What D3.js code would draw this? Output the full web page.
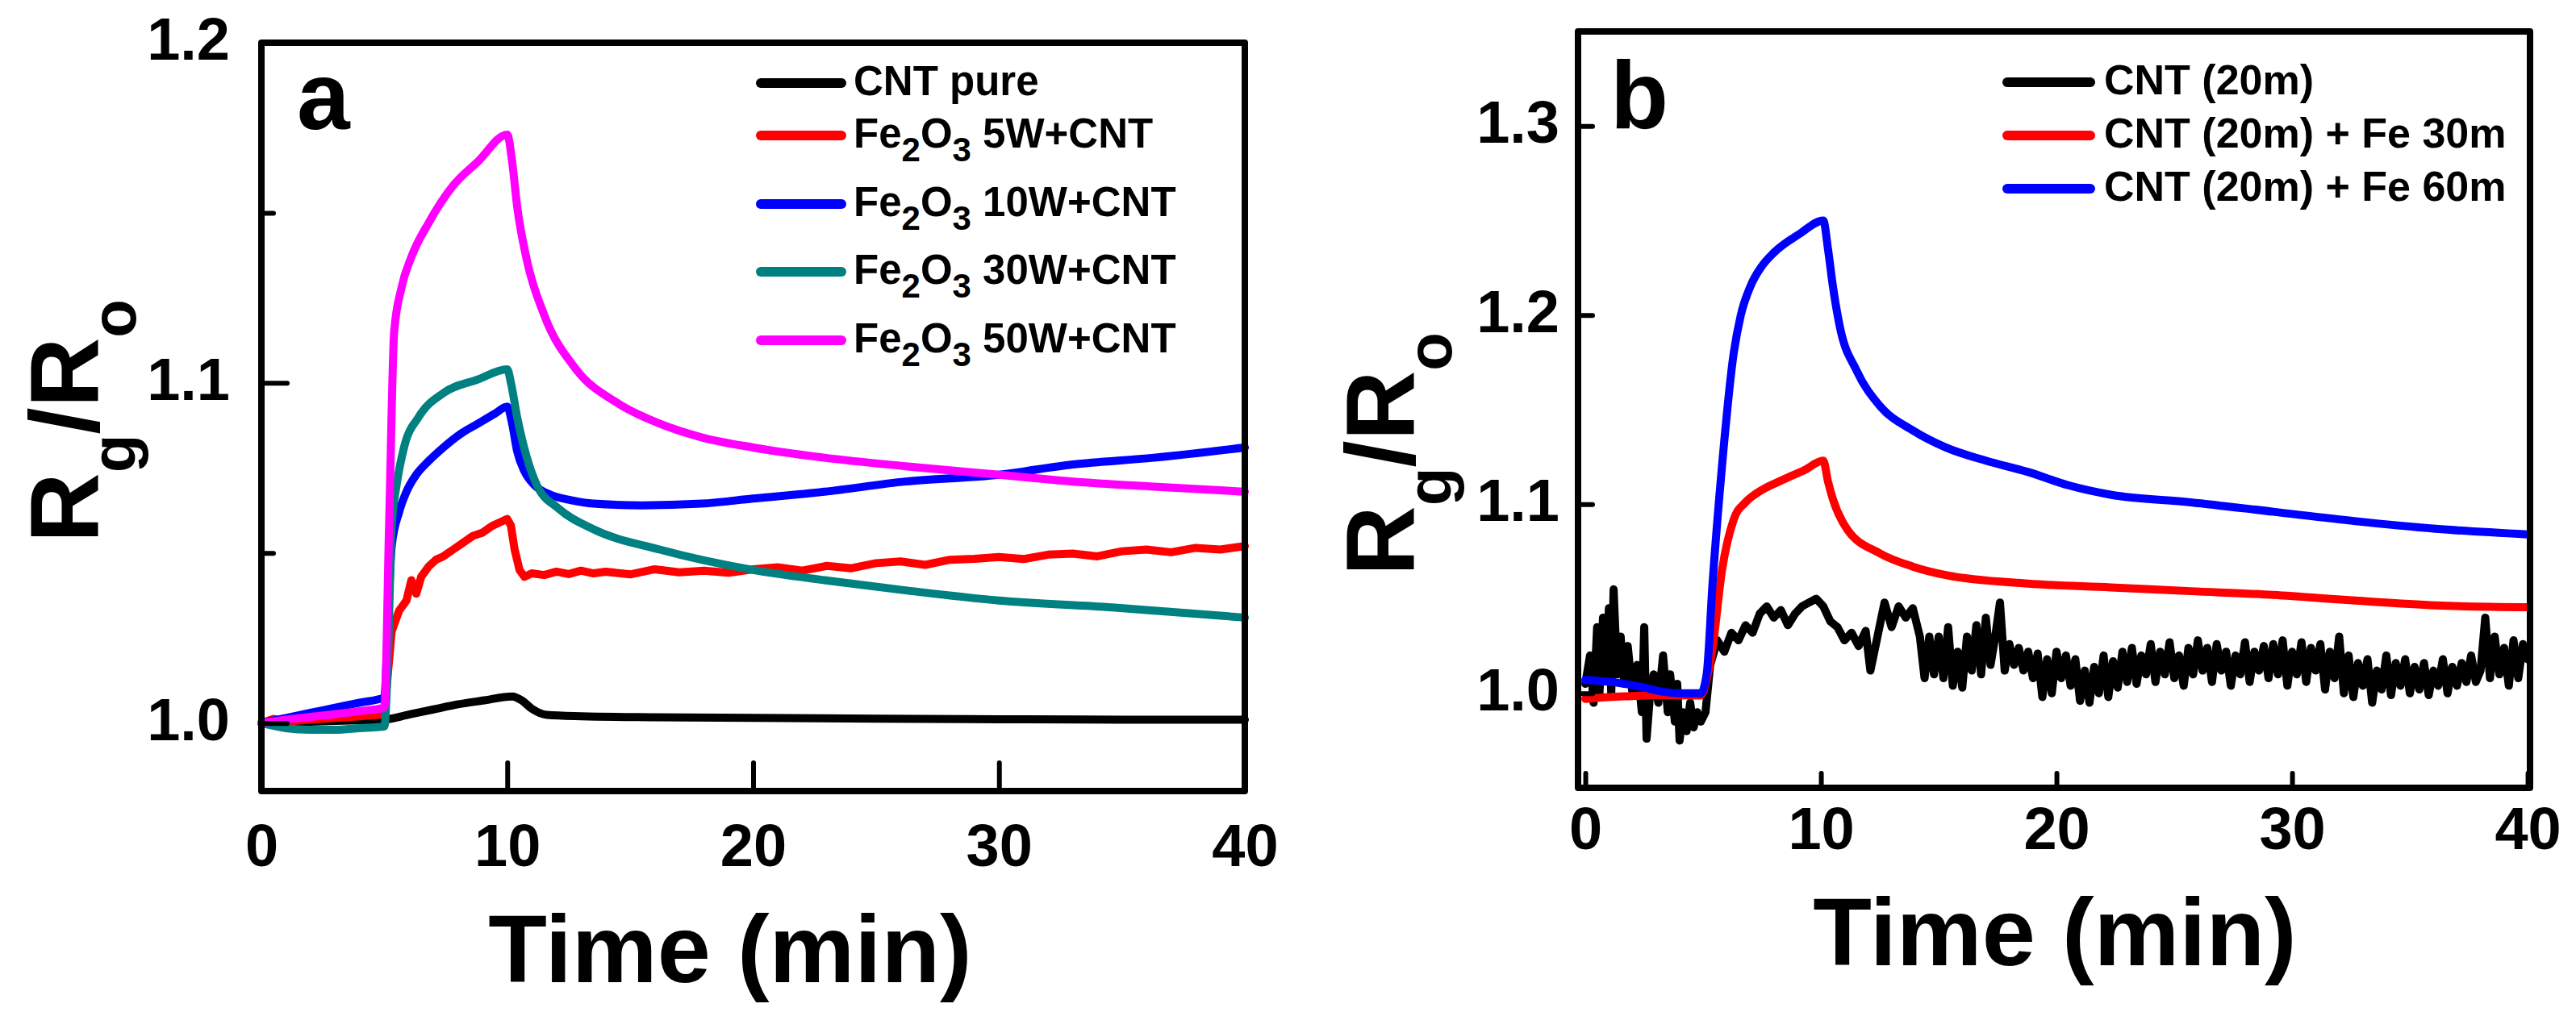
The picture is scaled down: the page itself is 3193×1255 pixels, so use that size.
<!DOCTYPE html>
<html>
<head>
<meta charset="utf-8">
<script src="https://cdn.jsdelivr.net/npm/d3@7"></script>
<style>
  body { margin: 0; background: #fff; }
  svg text { font-family: "Liberation Sans", Arial, sans-serif; font-weight: bold; fill: #000; }
</style>
</head>
<body>
<div id="chart"></div>
<script>
// ---------- panel a data : [time (min), Rg/Ro] ----------
const aNames = ["CNT pure", "Fe2O3 5W+CNT", "Fe2O3 10W+CNT", "Fe2O3 30W+CNT", "Fe2O3 50W+CNT"];
const aColors = ["#000000", "#ff0000", "#0000ff", "#008080", "#ff00ff"];

const aCntPure = [[0,1.0],[2,1.0004],[4,1.0008],[5,1.001],[6,1.0025],[7,1.004],[8,1.0055],[9,1.0066],[10.2,1.0078],
  [10.6,1.0066],[11.0,1.0042],[11.6,1.0024],[13,1.002],[16,1.0017],[20,1.0015],[25,1.0013],[30,1.0011],[35,1.001],[40,1.001]];

const aFe5W = [[0,1.0],[0.5,1.0012],[1,1.0005],[2,1.001],[3,1.0015],[4,1.002],[5,1.0025],[5.15,1.015],[5.3,1.027],[5.6,1.033],
  [5.9,1.036],[6.1,1.042],[6.3,1.038],[6.5,1.043],[6.8,1.046],[7.1,1.048],[7.4,1.049],[7.8,1.051],[8.2,1.053],[8.6,1.055],
  [9.0,1.056],[9.4,1.058],[9.7,1.059],[10.0,1.060],[10.15,1.058],[10.3,1.051],[10.5,1.045],[10.7,1.043],[11.0,1.044],
  [11.5,1.0435],[12,1.0445],[12.5,1.0438],[13,1.0448],[13.5,1.044],[14,1.0445],[15,1.0437],[16,1.0452],[17,1.0443],
  [18,1.0448],[19,1.0442],[20,1.0452],[21,1.0458],[22,1.0448],[23,1.0462],[24,1.0455],[25,1.047],[26,1.0475],[27,1.0465],
  [28,1.048],[29,1.0483],[30,1.0488],[31,1.0482],[32,1.0495],[33,1.0498],[34,1.049],[35,1.0505],[36,1.051],[37,1.0502],
  [38,1.0515],[39,1.051],[40,1.052]];

const aFe10W = [[0,1.0],[1,1.0015],[2,1.003],[3,1.0045],[4,1.006],[5,1.0075],[5.15,1.03],[5.3,1.052],[5.6,1.062],[5.9,1.068],
  [6.3,1.073],[6.8,1.077],[7.4,1.081],[8.1,1.085],[8.8,1.088],[9.5,1.091],[10.0,1.093],[10.2,1.088],[10.4,1.08],[10.7,1.074],
  [11.1,1.07],[11.8,1.067],[12.6,1.0655],[13.5,1.0645],[15.5,1.064],[17.9,1.0645],[20,1.066],[22.9,1.068],[26.2,1.071],
  [30,1.073],[33,1.076],[36.3,1.078],[40,1.081]];

const aFe30W = [[0,1.0],[1,0.9985],[2,0.998],[3,0.998],[4,0.9985],[5,0.999],[5.15,1.02],[5.3,1.058],[5.5,1.07],[5.8,1.081],
  [6.4,1.09],[7.4,1.097],[8.8,1.101],[10.0,1.104],[10.15,1.1],[10.4,1.09],[10.8,1.078],[11.2,1.07],[12.1,1.063],[13.5,1.057],
  [16.2,1.051],[20,1.045],[22.9,1.042],[26.2,1.039],[30,1.036],[34.6,1.034],[40,1.031]];

const aFe50W = [[0,1.0],[1,1.001],[2,1.0018],[3,1.0026],[4,1.0035],[5,1.0045],[5.2,1.06],[5.4,1.115],[5.7,1.128],[6.1,1.137],
  [6.8,1.147],[7.8,1.158],[8.8,1.165],[10.0,1.173],[10.2,1.165],[10.4,1.152],[10.8,1.136],[11.5,1.12],[12.8,1.104],
  [14.5,1.094],[16.2,1.088],[17.9,1.084],[20,1.081],[22.9,1.078],[26.2,1.0755],[30,1.073],[33,1.071],[36.3,1.0695],[40,1.068]];

const aXTicks = [0, 10, 20, 30, 40];
const aYMajor = [1.0, 1.1, 1.2];
const aYMinor = [1.05, 1.15];

// ---------- panel b data ----------
const bNames = ["CNT (20m)", "CNT (20m) + Fe 30m", "CNT (20m) + Fe 60m"];
const bColors = ["#000000", "#ff0000", "#0000ff"];

const bCnt = [[0,1.005],[0.2,1.02],[0.35,0.995],[0.5,1.035],[0.6,1.0],[0.75,1.04],[0.9,1.01],[1.0,1.045],[1.1,1.0],[1.2,1.055],
  [1.35,1.01],[1.5,1.03],[1.65,1.005],[1.8,1.025],[2.0,1.0],[2.2,1.015],[2.4,0.99],[2.5,1.035],[2.6,0.976],[2.75,1.0],
  [2.9,1.01],[3.1,0.995],[3.3,1.02],[3.5,0.99],[3.6,1.01],[3.8,0.985],[3.9,1.005],[4.0,0.975],[4.15,0.99],[4.3,0.98],
  [4.45,0.995],[4.6,0.982],[4.75,0.99],[4.9,0.985],[5.1,0.99],[5.3,1.015],[5.6,1.028],[5.9,1.022],[6.2,1.032],[6.5,1.028],
  [6.8,1.036],[7.1,1.032],[7.4,1.042],[7.7,1.046],[8.0,1.04],[8.3,1.044],[8.6,1.036],[8.9,1.042],[9.2,1.046],[9.5,1.048],
  [9.8,1.05],[10.1,1.046],[10.4,1.038],[10.7,1.035],[11.0,1.028],[11.3,1.032],[11.6,1.025],[11.9,1.033],[12.1,1.012],
  [12.4,1.03],[12.7,1.048],[13.0,1.035],[13.3,1.046],[13.6,1.04],[13.9,1.045],[14.2,1.03],[14.4,1.008],[14.6,1.03],
  [14.8,1.01],[15.0,1.03],[15.2,1.008],[15.4,1.035],[15.6,1.004],[15.8,1.022],[16.0,1.003],[16.2,1.03],[16.4,1.012],
  [16.6,1.036],[16.8,1.01],[17.0,1.04],[17.2,1.015],[17.4,1.03],[17.6,1.048],[17.8,1.012],[18.0,1.026],[18.2,1.015],
  [18.4,1.024],[18.6,1.012],[18.8,1.022],[19.0,1.008],[19.2,1.021],[19.4,0.998],[19.6,1.018],[19.8,1.0],[20.0,1.022],
  [20.2,1.008],[20.4,1.02],[20.6,1.004],[20.8,1.018],[21.0,0.996],[21.2,1.012],[21.4,0.995],[21.6,1.014],[21.8,1.0],
  [22.0,1.02],[22.2,0.998],[22.4,1.017],[22.6,1.003],[22.8,1.022],[23.0,1.006],[23.2,1.024],[23.4,1.005],[23.6,1.02],
  [23.8,1.01],[24.0,1.026],[24.2,1.006],[24.4,1.022],[24.6,1.01],[24.8,1.027],[25.0,1.008],[25.2,1.02],[25.4,1.004],
  [25.6,1.024],[25.8,1.01],[26.0,1.028],[26.2,1.012],[26.4,1.024],[26.6,1.006],[26.8,1.026],[27.0,1.012],[27.2,1.022],
  [27.4,1.004],[27.6,1.02],[27.8,1.01],[28.0,1.027],[28.2,1.006],[28.4,1.022],[28.6,1.012],[28.8,1.025],[29.0,1.008],
  [29.2,1.026],[29.4,1.01],[29.6,1.028],[29.8,1.004],[30.0,1.022],[30.2,1.01],[30.4,1.027],[30.6,1.006],[30.8,1.024],
  [31.0,1.012],[31.2,1.026],[31.4,1.002],[31.6,1.022],[31.8,1.008],[32.0,1.03],[32.2,1.0],[32.4,1.02],[32.6,0.998],
  [32.8,1.016],[33.0,1.004],[33.2,1.018],[33.4,0.995],[33.6,1.012],[33.8,1.002],[34.0,1.02],[34.2,0.999],[34.4,1.016],
  [34.6,1.004],[34.8,1.018],[35.0,1.0],[35.2,1.014],[35.4,1.002],[35.6,1.016],[35.8,0.999],[36.0,1.012],[36.2,1.004],
  [36.4,1.018],[36.6,1.0],[36.8,1.014],[37.0,1.004],[37.2,1.016],[37.4,1.006],[37.6,1.02],[37.8,1.006],[38.0,1.012],
  [38.2,1.04],[38.4,1.008],[38.6,1.03],[38.8,1.01],[39.0,1.024],[39.2,1.004],[39.4,1.028],[39.6,1.008],[39.8,1.026],
  [40.0,1.018]];

const bFe30 = [[0,0.997],[1,0.998],[2,0.9985],[3,0.999],[4.9,0.9988],[5.2,1.01],[5.4,1.024],[5.8,1.065],[6.3,1.092],[6.8,1.101],
  [7.3,1.106],[8.4,1.113],[9.3,1.118],[10.1,1.123],[10.3,1.112],[10.5,1.103],[11.1,1.087],[12.5,1.074],[13.9,1.067],
  [15.3,1.0625],[18.8,1.058],[22.3,1.056],[25.7,1.054],[29.2,1.052],[32.7,1.049],[36.1,1.0465],[40,1.0455]];

const bFe60 = [[0,1.007],[1.4,1.0055],[2.5,1.003],[3.2,1.001],[4.0,1.0],[4.9,1.0],[5.15,1.01],[5.4,1.058],[5.8,1.12],[6.3,1.18],
  [6.6,1.2],[7.0,1.215],[7.5,1.226],[8.0,1.233],[9.1,1.243],[10.1,1.25],[10.3,1.235],[10.5,1.216],[10.8,1.194],[11.5,1.171],
  [12.5,1.152],[13.9,1.139],[15.3,1.13],[17.0,1.123],[18.8,1.117],[20.5,1.11],[22.3,1.105],[25.7,1.101],[29.2,1.096],
  [32.7,1.091],[36.1,1.087],[40,1.084]];

const bXTicks = [0, 10, 20, 30, 40];
const bYTicks = [1.0, 1.1, 1.2, 1.3];

// ---------- page ----------
const W = 3193, H = 1255;
const svg = d3.select("#chart").append("svg").attr("width", W).attr("height", H);
svg.append("rect").attr("width", W).attr("height", H).attr("fill", "#fff");

// writes "Fe2O3" style labels : a digit right after a letter becomes a subscript
function richLabel(sel, str, size, subSize, shift) {
  const parts = str.split(/(?<=[A-Za-z])(\d)/);
  let down = false;
  parts.forEach((p, i) => {
    if (p === "") return;
    const isSub = i % 2 === 1;
    const t = sel.append("tspan").text(p);
    if (isSub) {
      t.attr("font-size", subSize).attr("dy", shift);
      down = true;
    } else if (down) {
      t.attr("dy", -shift);
      down = false;
    }
  });
  sel.attr("font-size", size);
}

function drawPanel(cfg) {
  const x = d3.scaleLinear().domain(cfg.xDomain).range(cfg.xRange);
  const y = d3.scaleLinear().domain(cfg.yDomain).range(cfg.yRange);
  const g = svg.append("g");

  // lines
  const line = d3.line().x((d) => x(d[0])).y((d) => y(d[1]));
  cfg.series.forEach((s, i) => {
    g.append("path")
      .datum(s)
      .attr("fill", "none")
      .attr("stroke", cfg.colors[i])
      .attr("stroke-width", 10)
      .attr("stroke-linejoin", "round")
      .attr("stroke-linecap", "round")
      .attr("d", line.curve(cfg.curves[i])(s));
  });

  // x axis, ticks pointing inward
  g.append("g")
    .attr("transform", `translate(0,${cfg.yRange[0]})`)
    .call(d3.axisBottom(x).tickValues(cfg.xTicks).tickSize(-cfg.xTickLen).tickPadding(cfg.xPad).tickFormat(d3.format("d")))
    .call((a) => a.select(".domain").remove())
    .call((a) => a.selectAll("line").attr("stroke-width", 6).attr("stroke-linecap", "round"))
    .call((a) => a.selectAll("text").attr("font-size", 74).attr("font-family", null));

  // y axis
  g.append("g")
    .attr("transform", `translate(${cfg.xRange[0]},0)`)
    .call(d3.axisLeft(y).tickValues(cfg.yTicks).tickSize(-cfg.yTickLen).tickPadding(cfg.yPad).tickFormat(d3.format(".1f")))
    .call((a) => a.select(".domain").remove())
    .call((a) => a.selectAll("line").attr("stroke-width", 6).attr("stroke-linecap", "round"))
    .call((a) => a.selectAll("text").attr("font-size", 74).attr("font-family", null).attr("dy", "0.28em"));

  if (cfg.yMinor) {
    g.append("g")
      .attr("transform", `translate(${cfg.xRange[0]},0)`)
      .call(d3.axisLeft(y).tickValues(cfg.yMinor).tickSize(-15).tickFormat(""))
      .call((a) => a.select(".domain").remove())
      .call((a) => a.selectAll("line").attr("stroke-width", 6).attr("stroke-linecap", "round"));
  }

  // frame
  g.append("rect")
    .attr("x", cfg.xRange[0])
    .attr("y", cfg.yRange[1])
    .attr("width", cfg.xRange[1] - cfg.xRange[0])
    .attr("height", cfg.yRange[0] - cfg.yRange[1])
    .attr("fill", "none")
    .attr("stroke", "#000")
    .attr("stroke-width", 8)
    .attr("stroke-linejoin", "round");

  // legend
  cfg.names.forEach((name, i) => {
    const ly = cfg.legend.rows[i];
    g.append("line")
      .attr("x1", cfg.legend.x1).attr("x2", cfg.legend.x2)
      .attr("y1", ly).attr("y2", ly)
      .attr("stroke", cfg.colors[i])
      .attr("stroke-width", 12)
      .attr("stroke-linecap", "round");
    const t = g.append("text").attr("x", cfg.legend.tx).attr("y", ly + 15);
    richLabel(t, name, cfg.legend.size, 42, 17);
  });

  // panel letter
  g.append("text").attr("x", cfg.letter[0]).attr("y", cfg.letter[1]).attr("font-size", 118).text(cfg.letter[2]);

  // axis titles
  g.append("text")
    .attr("x", cfg.xTitle[0]).attr("y", cfg.xTitle[1])
    .attr("text-anchor", "middle").attr("font-size", 119)
    .text("Time (min)");

  const yt = g.append("text")
    .attr("transform", `translate(${cfg.yTitle[0]},${cfg.yTitle[1]}) rotate(-90)`)
    .attr("text-anchor", "middle").attr("font-size", 120);
  yt.append("tspan").text("R");
  yt.append("tspan").attr("font-size", 78).attr("dy", 46).text("g");
  yt.append("tspan").attr("dy", -46).text("/R");
  yt.append("tspan").attr("font-size", 78).attr("dy", 46).text("o");
}

drawPanel({
  xDomain: [0, 40], xRange: [324, 1543],
  yDomain: [0.98, 1.2], yRange: [981, 53],
  series: [aCntPure, aFe5W, aFe10W, aFe30W, aFe50W],
  curves: [d3.curveMonotoneX, d3.curveLinear, d3.curveMonotoneX, d3.curveMonotoneX, d3.curveMonotoneX],
  colors: aColors, names: aNames,
  xTicks: aXTicks, xTickLen: 35, xPad: 40,
  yTicks: aYMajor, yTickLen: 32, yPad: 39, yMinor: aYMinor,
  legend: { x1: 943, x2: 1043, tx: 1058, size: 51, rows: [103, 168, 253, 337, 422] },
  letter: [368, 160, "a"],
  xTitle: [905, 1218],
  yTitle: [122, 522],
});

drawPanel({
  xDomain: [-0.31, 40.1], xRange: [1956, 3136],
  yDomain: [0.95, 1.35], yRange: [977, 39],
  series: [bCnt, bFe30, bFe60],
  curves: [d3.curveLinear, d3.curveMonotoneX, d3.curveMonotoneX],
  colors: bColors, names: bNames,
  xTicks: bXTicks, xTickLen: 18, xPad: 23,
  yTicks: bYTicks, yTickLen: 18, yPad: 23,
  legend: { x1: 2488, x2: 2591, tx: 2608, size: 52, rows: [102, 168, 234] },
  letter: [1996, 159, "b"],
  xTitle: [2547, 1197],
  yTitle: [1753, 563],
});
</script>
</body>
</html>
